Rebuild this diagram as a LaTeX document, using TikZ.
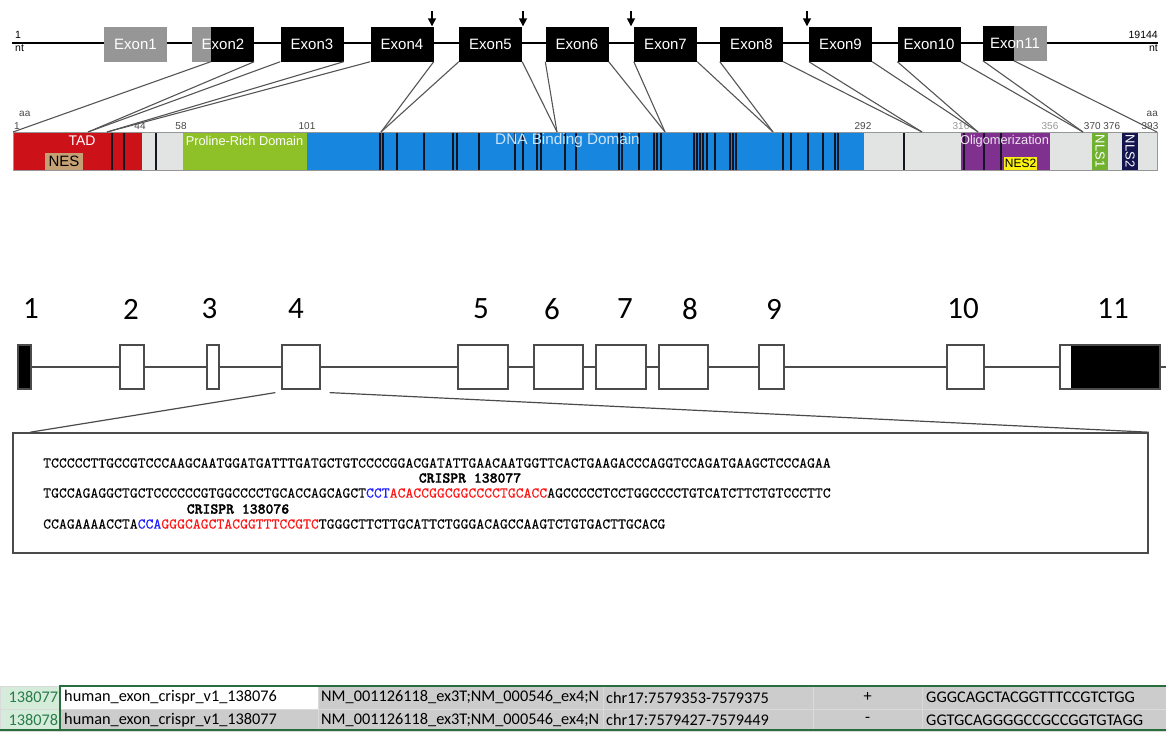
\documentclass[tikz,border=0pt]{standalone}
\usepackage{fontspec}
\setmainfont{Liberation Sans}
\newfontfamily\calfont{Carlito}
\newfontfamily\seqfont[Extension=.otf,FakeBold=0.25]{lmmono10-regular}
\newfontfamily\seqbold[Extension=.otf,FakeBold=1.6]{lmmonolt10-bold}
\usepackage{tikz}
\usetikzlibrary{arrows.meta,positioning}
\definecolor{exgray}{RGB}{150,150,150}
\definecolor{linkgray}{RGB}{85,85,85}
\definecolor{tadred}{RGB}{204,17,25}
\definecolor{nestan}{RGB}{196,160,116}
\definecolor{lightgr}{RGB}{226,228,228}
\definecolor{progreen}{RGB}{142,192,40}
\definecolor{dbdblue}{RGB}{23,134,222}
\definecolor{dbdtext}{RGB}{205,228,248}
\definecolor{oligo}{RGB}{128,48,142}
\definecolor{nesyel}{RGB}{250,240,20}
\definecolor{nlsgreen}{RGB}{112,178,48}
\definecolor{nlsnavy}{RGB}{20,20,80}
\definecolor{markblk}{RGB}{20,20,35}
\definecolor{numgray}{RGB}{70,70,70}
\definecolor{boxgray}{RGB}{75,75,75}
\definecolor{pamblue}{RGB}{30,30,255}
\definecolor{grnared}{RGB}{255,20,20}
\definecolor{cellgray}{RGB}{204,204,204}
\definecolor{cellline}{RGB}{218,218,218}
\definecolor{numgreen}{RGB}{214,236,218}
\definecolor{numtext}{RGB}{40,125,75}
\definecolor{tabgreen}{RGB}{40,110,60}
\newcommand\pam[1]{\textcolor{pamblue}{#1}}
\newcommand\grna[1]{\textcolor{grnared}{#1}}

\begin{document}
\begin{tikzpicture}[x=1pt,y=-1pt,
 exon/.style={fill=black,text=white,minimum width=63pt,minimum height=35pt,inner sep=0pt,font=\fontsize{15}{15}\selectfont},
 link/.style={draw=linkgray,line width=1.1pt},
 dom/.style={inner sep=0pt,font=\fontsize{13}{13}\selectfont},
 aanum/.style={inner sep=0pt,text=numgray,font=\fontsize{10}{10}\selectfont},
 gbox/.style={draw=boxgray,line width=1.2pt,fill=white,minimum height=44pt,inner sep=0pt},
 gnum/.style={inner sep=0pt,font=\calfont\fontsize{31}{31}\selectfont},
 seqln/.style={anchor=west,inner sep=0pt,font=\seqfont\fontsize{15}{15}\selectfont},
 crlbl/.style={inner sep=0pt,font=\seqbold\fontsize{15}{15}\selectfont},
 cell/.style={draw=cellline,anchor=north west,minimum height=22.5pt,inner sep=0pt,font=\calfont\fontsize{16.3}{16}\selectfont},
 cut/.style={-{Triangle[length=8pt,width=8pt]},line width=1.6pt}]
\useasboundingbox (0,0) rectangle (1166,731);

% gene map, exons
\draw[line width=2pt] (12,43) -- (1158,43);
\node[aanum,text=black,font=\fontsize{10.5}{10}\selectfont,anchor=west] (nt1) at (15,35) {1};
\node[aanum,text=black,font=\fontsize{10.5}{10}\selectfont,anchor=west] (nt1u) at (15,48) {nt};
\node[aanum,text=black,font=\fontsize{10.5}{10}\selectfont,anchor=east] (nt2) at (1158,35) {19144};
\node[aanum,text=black,font=\fontsize{10.5}{10}\selectfont,anchor=east] (nt2u) at (1158,48) {nt};
\node[exon,fill=exgray] (e1) at (135.5,44) {Exon1};
\node[exon,minimum width=62pt,path picture={\fill[exgray] (path picture bounding box.north west) rectangle ([xshift=19pt]path picture bounding box.south west);}] (e2) at (223,44) {Exon2};
\node[exon] (e3) at (312,44) {Exon3};
\node[exon] (e4) at (402,44) {Exon4};
\node[exon] (e5) at (490.5,44) {Exon5};
\node[exon] (e6) at (577,44) {Exon6};
\node[exon] (e7) at (665.5,44) {Exon7};
\node[exon] (e8) at (751.5,44) {Exon8};
\node[exon] (e9) at (840.5,44) {Exon9};
\node[exon] (e10) at (929,44) {Exon10};
\node[exon,minimum width=64pt,path picture={\fill[exgray] ([xshift=31pt]path picture bounding box.north west) rectangle (path picture bounding box.south east);}] (e11) at (1015,43) {Exon11};
\coordinate (a1) at (432,11);
\coordinate (a2) at (523,11);
\coordinate (a3) at (631,11);
\coordinate (a4) at (807,11);
\draw[cut] (a1) -- (a1 |- e4.north);
\draw[cut] (a2) -- (a2 |- e5.north);
\draw[cut] (a3) -- (a3 |- e7.north);
\draw[cut] (a4) -- (a4 |- e9.north);

% protein bar
\fill[tadred] (13,132) rectangle (142,170);
\fill[lightgr] (142,132) rectangle (183,170);
\fill[progreen] (183,132) rectangle (307,170);
\fill[dbdblue] (307,132) rectangle (864,170);
\fill[lightgr] (864,132) rectangle (961,170);
\fill[oligo] (961,132) rectangle (1050,170);
\fill[lightgr] (1050,132) rectangle (1157,170);
\foreach \x in {112,124,156,380,383,397,424,453,457,479,515,523,537,541,565,576,619,622,639,654,657,661,694,697,700,703,707,715,730,733,736,783,791,808,823,835,838,904,964,984,1001}
 \draw[markblk,line width=1.4pt] (\x,132) -- (\x,170);
\node[dom,fill=nestan,minimum width=38pt,minimum height=17pt,font=\fontsize{15}{15}\selectfont] (nes) at (64,161.5) {NES};
\node[dom,fill=nesyel,minimum width=33pt,minimum height=13pt,font=\fontsize{12}{12}\selectfont] (nes2) at (1020.5,163.5) {NES2};
\node[dom,fill=nlsgreen,text=white,minimum width=38pt,minimum height=16pt,rotate=-90] (nls1) at (1100,151) {NLS1};
\node[dom,fill=nlsnavy,text=white,minimum width=38pt,minimum height=16pt,rotate=-90] (nls2) at (1130,151) {NLS2};
\draw[exgray,line width=0.8pt] (13,132) rectangle (1157,170);
\node[dom,text=white,font=\fontsize{14}{14}\selectfont] (tad) at (82,141) {TAD};
\node[dom,text=white,font=\fontsize{12.8}{13}\selectfont] (pro) at (244.5,141) {Proline-Rich Domain};
\node[dom,text=dbdtext,font=\fontsize{15.3}{15}\selectfont] (dbd) at (567.5,141) {DNA Binding Domain};
\node[dom,text=white!88!oligo,font=\fontsize{12.8}{13}\selectfont] (olg) at (1004.5,141) {Oligomerization};
\node[aanum,anchor=west] (aa1) at (19,114) {aa};
\node[aanum,anchor=east] (aa2) at (1158,114) {aa};
\node[aanum,anchor=west] (n1) at (14,126) {1};
\node[aanum] (n44) at (140,126) {44};
\node[aanum] (n58) at (181,126) {58};
\node[aanum] (n101) at (307,126) {101};
\node[aanum] (n292) at (863,126) {292};
\node[aanum,text=exgray] (n316) at (961,126) {316};
\node[aanum,text=exgray] (n356) at (1050,126) {356};
\node[aanum] (n370) at (1102,126) {370 376};
\node[aanum] (n393) at (1150,126) {393};

% exon boundaries on the protein
\foreach \n/\x in {1/13,2/88,3/107,4/381,5/557,6/665,7/773,8/922,9/978,10/1083,11/1157}
 \coordinate (p\n) at (\x,132);
\draw[link] ([xshift=19pt]e2.south west) -- (p1);
\foreach \a/\b in {2/3,3/4,4/5,5/6,6/7,7/8,8/9,9/10,10/11} {
 \draw[link] (e\a.south east) -- (p\a);
 \draw[link] (e\b.south west) -- (p\a);
}
\draw[link] ([xshift=31pt]e11.south west) -- (p11);

% exon structure
\draw[boxgray,line width=1.2pt] (17,367) -- (1166,367);
\node[gbox,fill=black,minimum width=13pt] (g1) at (24.5,367) {};
\node[gbox,minimum width=24pt] (g2) at (132,367) {};
\node[gbox,minimum width=12pt] (g3) at (213,367) {};
\node[gbox,minimum width=38pt] (g4) at (301,367) {};
\node[gbox,minimum width=50pt] (g5) at (483,367) {};
\node[gbox,minimum width=49pt] (g6) at (558.5,367) {};
\node[gbox,minimum width=50pt] (g7) at (621,367) {};
\node[gbox,minimum width=49pt] (g8) at (683.5,367) {};
\node[gbox,minimum width=25pt] (g9) at (771.5,367) {};
\node[gbox,minimum width=37pt] (g10) at (965.5,367) {};
\node[gbox,minimum width=100pt,path picture={\fill[black] ([xshift=11pt]path picture bounding box.north west) rectangle (path picture bounding box.south east);}] (g11) at (1110,367) {};
\node[gnum] (l1) at (31,309) {1};
\node[gnum] (l2) at (131,309) {2};
\node[gnum] (l3) at (209.5,309) {3};
\node[gnum] (l4) at (296,309) {4};
\node[gnum] (l5) at (481,309) {5};
\node[gnum] (l6) at (552,309) {6};
\node[gnum] (l7) at (625,309) {7};
\node[gnum] (l8) at (690,309) {8};
\node[gnum] (l9) at (774,309) {9};
\node[gnum] (l10) at (963,309) {10};
\node[gnum] (l11) at (1113,309) {11};

% exon 4 sequence
\node[draw=boxgray,line width=1.6pt,minimum width=1135pt,minimum height=120pt,inner sep=0pt] (seq) at (580.5,493) {};
\draw[boxgray,line width=1.2pt] ([xshift=-6pt,yshift=-3pt]g4.south west) -- ([xshift=18pt]seq.north west);
\draw[boxgray,line width=1.2pt] ([xshift=9pt,yshift=-3pt]g4.south east) -- (seq.north east);
\node[seqln] (s1) at (43,463) {TCCCCCTTGCCGTCCCAAGCAATGGATGATTTGATGCTGTCCCCGGACGATATTGAACAATGGTTCACTGAAGACCCAGGTCCAGATGAAGCTCCCAGAA};
\node[seqln] (s2) at (43,493) {TGCCAGAGGCTGCTCCCCCCGTGGCCCCTGCACCAGCAGCT\pam{CCT}\grna{ACACCGGCGGCCCCTGCACC}AGCCCCCTCCTGGCCCCTGTCATCTTCTGTCCCTTC};
\node[seqln] (s3) at (43,524) {CCAGAAAACCTA\pam{CCA}\grna{GGGCAGCTACGGTTTCCGTC}TGGGCTTCTTGCATTCTGGGACAGCCAAGTCTGTGACTTGCACG};
\node[crlbl] (c77) at (470,478) {CRISPR 138077};
\node[crlbl] (c76) at (238,509) {CRISPR 138076};

% guide table
\node[cell,fill=numgreen,text=numtext,minimum width=60pt,text width=56pt,align=right] (r1n) at (0,686) {138077};
\node[cell,fill=white,minimum width=258pt,text width=250pt,align=left] (r1a) at (60,686) {human\_exon\_crispr\_v1\_138076};
\node[cell,fill=cellgray,minimum width=285pt,text width=279pt,align=left] (r1b) at (318,686) {NM\_001126118\_ex3T;NM\_000546\_ex4;N};
\node[cell,fill=cellgray,minimum width=210pt,text width=204pt,align=left] (r1c) at (603,686) {chr17:7579353-7579375};
\node[cell,fill=cellgray,minimum width=109pt] (r1d) at (813,686) {+};
\node[cell,fill=cellgray,minimum width=244pt,text width=236pt,align=left] (r1e) at (922,686) {GGGCAGCTACGGTTTCCGTCTGG};
\node[cell,fill=numgreen,text=numtext,minimum width=60pt,text width=56pt,align=right] (r2n) at (0,708.5) {138078};
\node[cell,fill=cellgray,minimum width=258pt,text width=250pt,align=left] (r2a) at (60,708.5) {human\_exon\_crispr\_v1\_138077};
\node[cell,fill=cellgray,minimum width=285pt,text width=279pt,align=left] (r2b) at (318,708.5) {NM\_001126118\_ex3T;NM\_000546\_ex4;N};
\node[cell,fill=cellgray,minimum width=210pt,text width=204pt,align=left] (r2c) at (603,708.5) {chr17:7579427-7579449};
\node[cell,fill=cellgray,minimum width=109pt] (r2d) at (813,708.5) {-};
\node[cell,fill=cellgray,minimum width=244pt,text width=236pt,align=left] (r2e) at (922,708.5) {GGTGCAGGGGCCGCCGGTGTAGG};
\draw[tabgreen,line width=2pt] (1166,686) -- (60,686) -- (60,731);
\draw[tabgreen,line width=2pt] (0,730) -- (1166,730);
\end{tikzpicture}
\end{document}
